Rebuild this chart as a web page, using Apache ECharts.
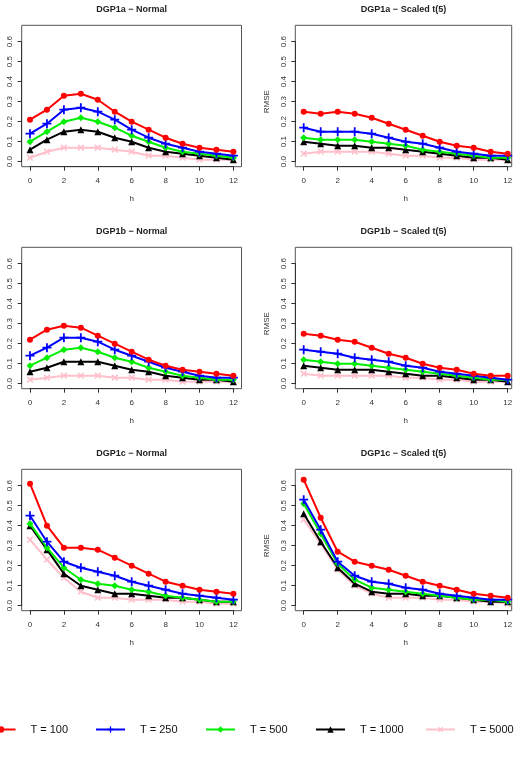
<!DOCTYPE html>
<html>
<head>
<meta charset="utf-8">
<script src="https://cdn.jsdelivr.net/npm/echarts@6/dist/echarts.min.js"></script>
<style>
html,body{margin:0;padding:0;background:#fff;}
#chart{width:522px;height:770px;}
</style>
</head>
<body>
<div id="chart"></div>
<script>
// ---- data ----
const hValues = [0,1,2,3,4,5,6,7,8,9,10,11,12];
const xTicks = [0,2,4,6,8,10,12];
const yTicks = [0,0.1,0.2,0.3,0.4,0.5,0.6];
const seriesNames = ['T = 100','T = 250','T = 500','T = 1000','T = 5000'];
const panelTitles = ['DGP1a \u2212 Normal','DGP1a \u2212 Scaled t(5)','DGP1b \u2212 Normal','DGP1b \u2212 Scaled t(5)','DGP1c \u2212 Normal','DGP1c \u2212 Scaled t(5)'];

// DGP1a - Normal
const a_norm_100  = [0.21,0.26,0.33,0.34,0.31,0.25,0.20,0.16,0.12,0.09,0.07,0.06,0.05];
const a_norm_250  = [0.14,0.19,0.26,0.27,0.25,0.21,0.16,0.12,0.09,0.07,0.05,0.04,0.03];
const a_norm_500  = [0.10,0.15,0.20,0.22,0.20,0.17,0.13,0.10,0.07,0.05,0.04,0.03,0.02];
const a_norm_1000 = [0.06,0.11,0.15,0.16,0.15,0.12,0.10,0.07,0.05,0.04,0.03,0.02,0.01];
const a_norm_5000 = [0.02,0.05,0.07,0.07,0.07,0.06,0.05,0.03,0.03,0.02,0.01,0.01,0.01];
// DGP1a - Scaled t(5)
const a_t_100  = [0.25,0.24,0.25,0.24,0.22,0.19,0.16,0.13,0.10,0.08,0.07,0.05,0.04];
const a_t_250  = [0.17,0.15,0.15,0.15,0.14,0.12,0.10,0.09,0.07,0.05,0.04,0.03,0.03];
const a_t_500  = [0.12,0.11,0.11,0.11,0.10,0.09,0.08,0.06,0.05,0.04,0.03,0.02,0.02];
const a_t_1000 = [0.10,0.09,0.08,0.08,0.07,0.07,0.06,0.05,0.04,0.03,0.02,0.02,0.01];
const a_t_5000 = [0.04,0.05,0.05,0.05,0.05,0.04,0.03,0.03,0.02,0.02,0.01,0.01,0.01];
// DGP1b - Normal
const b_norm_100  = [0.22,0.27,0.29,0.28,0.24,0.20,0.16,0.12,0.09,0.07,0.06,0.05,0.04];
const b_norm_250  = [0.14,0.18,0.23,0.23,0.21,0.17,0.14,0.11,0.08,0.06,0.04,0.03,0.03];
const b_norm_500  = [0.09,0.13,0.17,0.18,0.16,0.13,0.11,0.08,0.06,0.04,0.03,0.02,0.02];
const b_norm_1000 = [0.06,0.08,0.11,0.11,0.11,0.09,0.07,0.06,0.04,0.03,0.02,0.02,0.01];
const b_norm_5000 = [0.02,0.03,0.04,0.04,0.04,0.03,0.03,0.02,0.02,0.01,0.01,0.01,0.01];
// DGP1b - Scaled t(5)
const b_t_100  = [0.25,0.24,0.22,0.21,0.18,0.15,0.13,0.10,0.08,0.07,0.05,0.04,0.04];
const b_t_250  = [0.17,0.16,0.15,0.13,0.12,0.11,0.09,0.08,0.06,0.05,0.04,0.03,0.02];
const b_t_500  = [0.12,0.11,0.10,0.10,0.09,0.08,0.07,0.06,0.05,0.04,0.03,0.02,0.02];
const b_t_1000 = [0.09,0.08,0.07,0.07,0.07,0.06,0.05,0.04,0.04,0.03,0.02,0.02,0.01];
const b_t_5000 = [0.05,0.04,0.04,0.04,0.04,0.04,0.03,0.03,0.02,0.02,0.01,0.01,0.01];
// DGP1c - Normal
const c_norm_100  = [0.61,0.40,0.29,0.29,0.28,0.24,0.20,0.16,0.12,0.10,0.08,0.07,0.06];
const c_norm_250  = [0.45,0.32,0.22,0.19,0.17,0.15,0.12,0.10,0.08,0.06,0.05,0.04,0.03];
const c_norm_500  = [0.41,0.29,0.19,0.13,0.11,0.10,0.08,0.07,0.05,0.04,0.03,0.02,0.02];
const c_norm_1000 = [0.40,0.28,0.16,0.10,0.08,0.06,0.06,0.05,0.04,0.04,0.03,0.02,0.02];
const c_norm_5000 = [0.33,0.23,0.14,0.07,0.04,0.04,0.03,0.03,0.03,0.02,0.02,0.01,0.01];
// DGP1c - Scaled t(5)
const c_t_100  = [0.63,0.44,0.27,0.22,0.20,0.18,0.15,0.12,0.10,0.08,0.06,0.05,0.04];
const c_t_250  = [0.53,0.38,0.22,0.15,0.12,0.11,0.09,0.08,0.06,0.05,0.04,0.03,0.03];
const c_t_500  = [0.51,0.36,0.21,0.13,0.09,0.08,0.07,0.06,0.05,0.04,0.03,0.03,0.02];
const c_t_1000 = [0.46,0.32,0.19,0.11,0.07,0.06,0.06,0.05,0.05,0.04,0.03,0.02,0.02];
const c_t_5000 = [0.43,0.31,0.18,0.10,0.06,0.04,0.04,0.04,0.03,0.03,0.02,0.02,0.01];

const panelData = [
  [a_norm_100,a_norm_250,a_norm_500,a_norm_1000,a_norm_5000],
  [a_t_100,a_t_250,a_t_500,a_t_1000,a_t_5000],
  [b_norm_100,b_norm_250,b_norm_500,b_norm_1000,b_norm_5000],
  [b_t_100,b_t_250,b_t_500,b_t_1000,b_t_5000],
  [c_norm_100,c_norm_250,c_norm_500,c_norm_1000,c_norm_5000],
  [c_t_100,c_t_250,c_t_500,c_t_1000,c_t_5000]
];

// ---- styles ----
const colors = ['#ff0000','#0000ff','#00ee00','#000000','#ffc0cb'];
const plusPath = 'path://M4,0h2v4h4v2h-4v4h-2v-4h-4v-2h4z';
const symbols = ['circle', plusPath, 'diamond', 'triangle', plusPath];
const symbolRot = [0,0,0,0,45];
const symbolSizes = [6,9,7,7,8];

const FONT = '"Liberation Sans", Arial, sans-serif';
// data region (x 0..12) and surrounding box per column
const colLayout = [
  {x0:30.0, w:203.4, boxL:21.7, boxR:241.5},
  {x0:303.7, w:204.0, boxL:295.3, boxR:511.7}
];
const rowBoxTop = [25.3, 247.3, 469.3];
const boxH = 141.4;
const topPad = 16.4;   // box top to y=0.6
const botPad = 5.0;    // y=0 to box bottom

const grids=[], xAxes=[], yAxes=[], titles=[], series=[];
// frame grids (boxes) first: indices 0..5
for (let p=0;p<6;p++){
  const col = p%2, row = Math.floor(p/2);
  const c = colLayout[col];
  grids.push({left:c.boxL, top:rowBoxTop[row], width:c.boxR-c.boxL, height:boxH,
    show:true, borderColor:'#555', borderWidth:1, backgroundColor:'#fff', z:0});
  xAxes.push({type:'value', gridIndex:p, show:false, min:0, max:1});
  yAxes.push({type:'value', gridIndex:p, show:false, min:0, max:1});
}
// data grids: indices 6..11
for (let p=0;p<6;p++){
  const col = p%2, row = Math.floor(p/2);
  const c = colLayout[col];
  const gi = p+6;
  grids.push({left:c.x0, top:rowBoxTop[row]+topPad, width:c.w, height:boxH-topPad-botPad,
    show:false, z:2});
  xAxes.push({type:'value', gridIndex:gi, min:0, max:12, interval:2, offset:botPad,
    name:'h', nameLocation:'middle', nameGap:28,
    nameTextStyle:{fontSize:8, color:'#333', fontFamily:FONT},
    axisLine:{show:true, onZero:false, lineStyle:{color:'#333', width:1}}, splitLine:{show:false},
    axisTick:{show:true, inside:false, length:4, lineStyle:{color:'#333'}},
    axisLabel:{show:true, margin:10, fontSize:8, color:'#333', fontFamily:FONT}
  });
  yAxes.push({type:'value', gridIndex:gi, min:0, max:0.6, interval:0.1, offset:c.x0-c.boxL,
    name: col===1 ? 'RMSE' : '', nameLocation:'middle', nameGap:25, nameRotate:90,
    nameTextStyle:{fontSize:8, color:'#333', fontFamily:FONT},
    axisLine:{show:true, onZero:false, lineStyle:{color:'#333', width:1}}, splitLine:{show:false},
    axisTick:{show:true, inside:false, length:4, lineStyle:{color:'#333'}},
    axisLabel:{show:true, margin:8, rotate:90, fontSize:8, color:'#333', fontFamily:FONT,
      formatter:(v)=>v.toFixed(1)}
  });
  titles.push({text:panelTitles[p], left:(c.boxL+c.boxR)/2, top:rowBoxTop[row]-20, textAlign:'center',
    padding:0, textStyle:{fontSize:9, fontWeight:'bold', color:'#222', fontFamily:FONT}});
  for (let s=0;s<5;s++){
    series.push({type:'line', name:seriesNames[s], xAxisIndex:gi, yAxisIndex:gi,
      data: hValues.map((h,i)=>[h, panelData[p][s][i]]),
      symbol:symbols[s], symbolSize:symbolSizes[s], symbolRotate:symbolRot[s], showAllSymbol:true,
      clip:false,
      lineStyle:{color:colors[s], width:2}, itemStyle:{color:colors[s]},
      z: 10 - s, animation:false});
  }
}

const legendLefts = [-14.5, 95, 205, 315, 425];
const legends = seriesNames.map((n,i)=>({
  data:[n], left:legendLefts[i], top:724, padding:0, orient:'horizontal',
  itemWidth:29, itemHeight:8, itemGap:0, selectedMode:false,
  textStyle:{fontSize:11, color:'#111', fontFamily:FONT, padding:[0,0,0,10]}
}));

const option = {
  backgroundColor:'#fff',
  animation:false,
  title: titles,
  grid: grids,
  xAxis: xAxes,
  yAxis: yAxes,
  series: series,
  legend: legends
};
const chart = echarts.init(document.getElementById('chart'), null, {renderer:'canvas'});
chart.setOption(option);
</script>
</body>
</html>
